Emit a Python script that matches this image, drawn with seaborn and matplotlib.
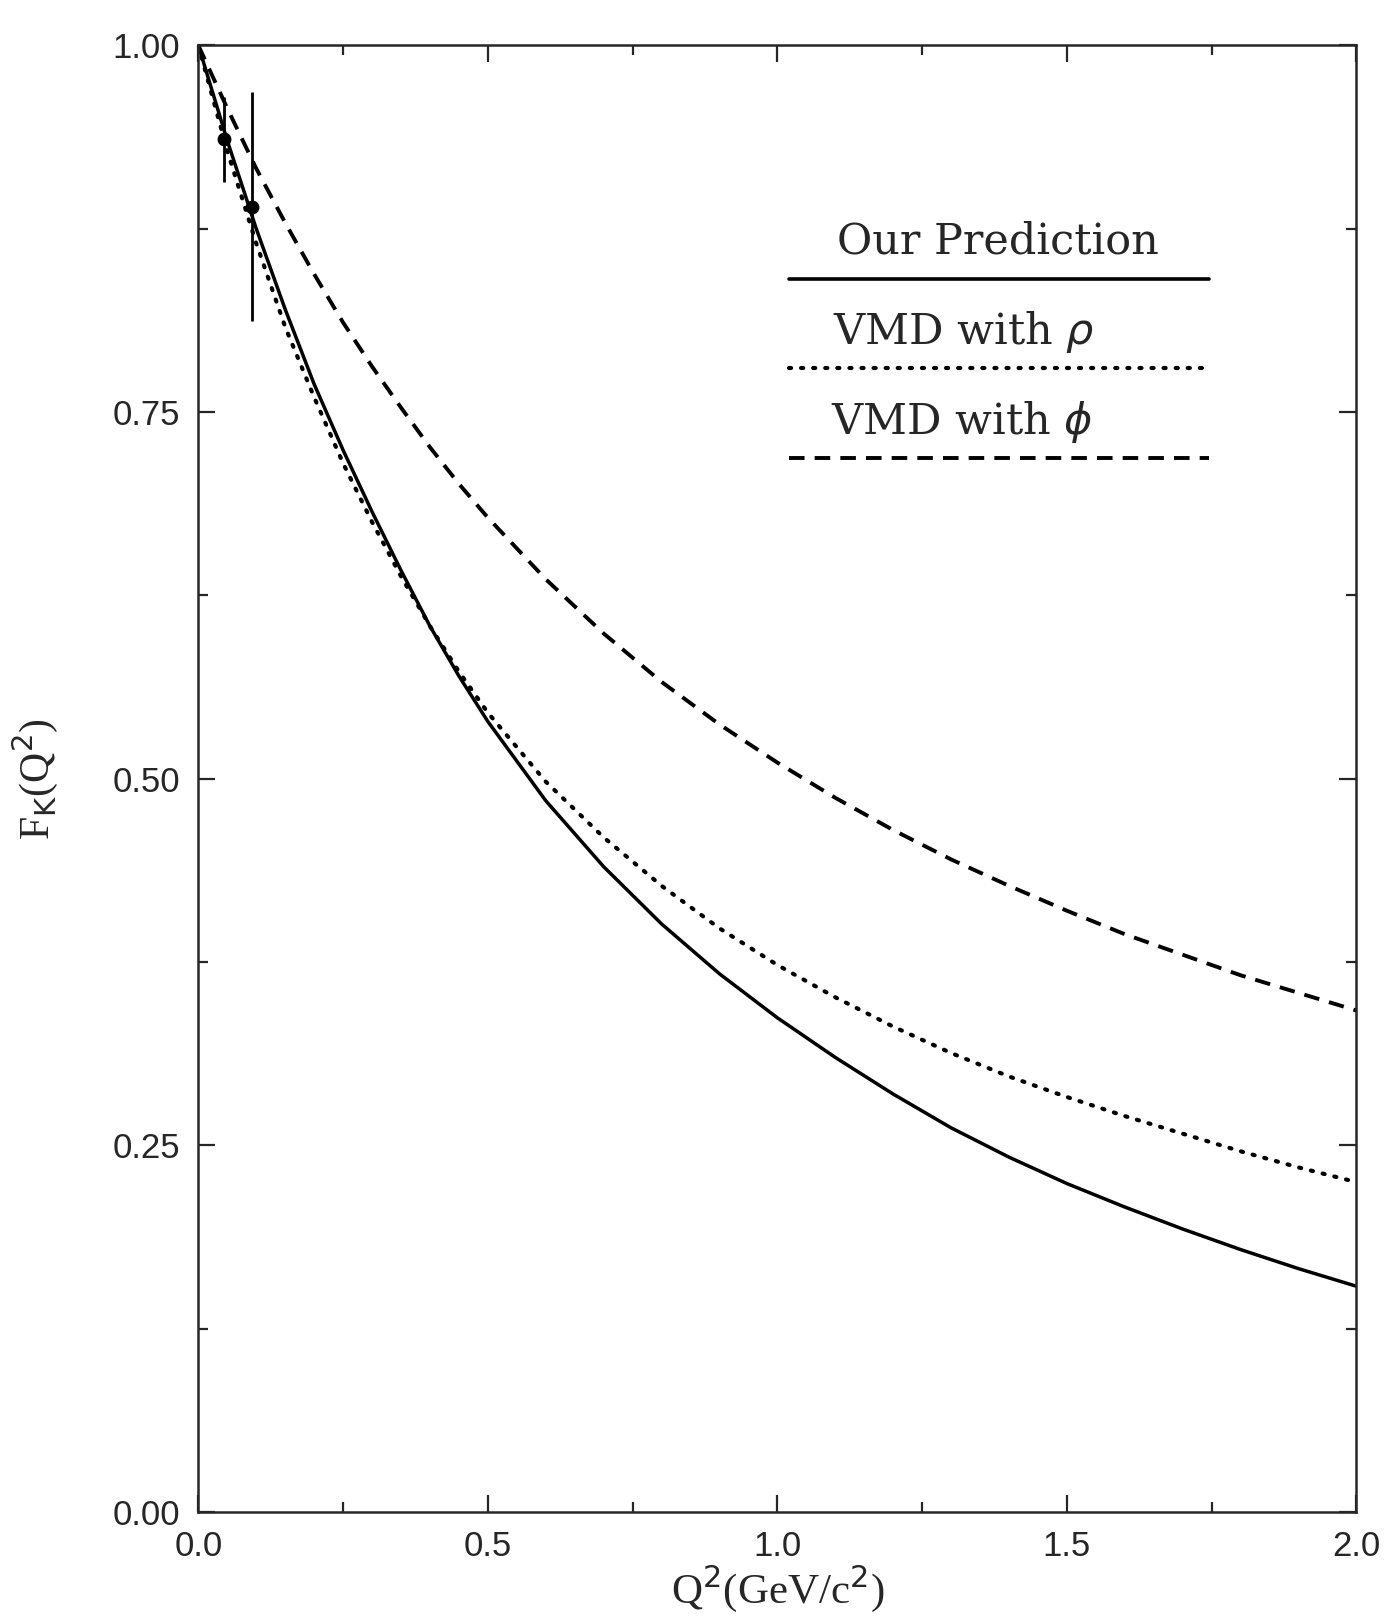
import numpy as np
import pandas as pd
import seaborn as sns
import matplotlib.pyplot as plt
from matplotlib.ticker import MultipleLocator, FormatStrFormatter

# values
q2 = [0.0, 0.05, 0.1, 0.15, 0.2, 0.25, 0.3, 0.35, 0.4, 0.45, 0.5, 0.6, 0.7, 0.8,
      0.9, 1.0, 1.1, 1.2, 1.3, 1.4, 1.5, 1.6, 1.7, 1.8, 1.9, 2.0]
our_pred = [1.0, 0.935, 0.875, 0.82, 0.769, 0.724, 0.682, 0.642, 0.604, 0.570,
            0.539, 0.485, 0.440, 0.401, 0.367, 0.337, 0.310, 0.285, 0.262, 0.242,
            0.224, 0.208, 0.193, 0.179, 0.166, 0.154]
vmd_rho = [1.0, 0.928, 0.865, 0.808, 0.760, 0.715, 0.675, 0.638, 0.604, 0.573,
           0.545, 0.498, 0.460, 0.427, 0.398, 0.373, 0.351, 0.331, 0.313, 0.297,
           0.283, 0.270, 0.258, 0.246, 0.235, 0.225]
vmd_phi = [1.0, 0.957, 0.916, 0.879, 0.844, 0.811, 0.781, 0.753, 0.726, 0.701,
           0.678, 0.636, 0.599, 0.566, 0.537, 0.511, 0.487, 0.465, 0.445, 0.427,
           0.410, 0.394, 0.380, 0.366, 0.354, 0.342]

# measured points with error bars
data_q2 = [0.045, 0.093]
data_f = [0.936, 0.89]
data_err = [0.029, 0.078]

df = pd.DataFrame({"Q2": q2, "ours": our_pred, "rho": vmd_rho, "phi": vmd_phi})

sns.set_style("ticks")
plt.rcParams["font.family"] = ["Liberation Sans", "DejaVu Sans"]

dotted = (0, (0.5, 2.4))
dashed = (0, (4, 2.6))

fig = plt.figure(figsize=(13.87, 16.19), dpi=100)
ax = fig.add_axes([0.143, 0.066, 0.835, 0.906])

sns.lineplot(data=df, x="Q2", y="ours", ax=ax, color="black", lw=2.5)
sns.lineplot(data=df, x="Q2", y="rho", ax=ax, color="black", lw=3.0,
             linestyle=dotted, dash_capstyle="round")
sns.lineplot(data=df, x="Q2", y="phi", ax=ax, color="black", lw=2.8,
             linestyle=dashed)
ax.errorbar(data_q2, data_f, yerr=data_err, fmt="o", color="black", ms=9,
            elinewidth=2, capsize=0)

ax.set_xlim(0, 2.0)
ax.set_ylim(0, 1.0)
ax.xaxis.set_major_locator(MultipleLocator(0.5))
ax.xaxis.set_minor_locator(MultipleLocator(0.25))
ax.yaxis.set_major_locator(MultipleLocator(0.25))
ax.yaxis.set_minor_locator(MultipleLocator(0.125))
ax.xaxis.set_major_formatter(FormatStrFormatter("%.1f"))
ax.yaxis.set_major_formatter(FormatStrFormatter("%.2f"))
ax.tick_params(which="both", direction="in", top=True, right=True,
               width=1.6, labelsize=25, pad=13)
ax.tick_params(which="major", length=12)
ax.tick_params(which="minor", length=7)
for s in ax.spines.values():
    s.set_linewidth(1.8)

ax.set_xlabel(r"Q$^2$(GeV/c$^2$)", fontsize=31, family="Liberation Serif",
              labelpad=0)
ax.set_ylabel(r"F$_\mathrm{K}$(Q$^2$)", fontsize=30, family="Liberation Serif",
              labelpad=38)

# hand-drawn style legend: label above a line sample
leg_font = dict(fontsize=31, family="DejaVu Serif", transform=ax.transAxes)
ax.text(0.69, 0.866, "Our Prediction", ha="center", va="center", **leg_font)
ax.plot([0.51, 0.873], [0.841, 0.841], transform=ax.transAxes,
        color="black", lw=2.6)
ax.text(0.548, 0.8045, r"VMD with $\rho$", ha="left", va="center", **leg_font)
ax.plot([0.51, 0.873], [0.78, 0.78], transform=ax.transAxes, color="black",
        lw=3.0, linestyle=dotted, dash_capstyle="round")
ax.text(0.546, 0.743, r"VMD with $\phi$", ha="left", va="center", **leg_font)
ax.plot([0.51, 0.873], [0.719, 0.719], transform=ax.transAxes,
        color="black", lw=2.8, linestyle=dashed)

fig.savefig("out.png", dpi=100)
